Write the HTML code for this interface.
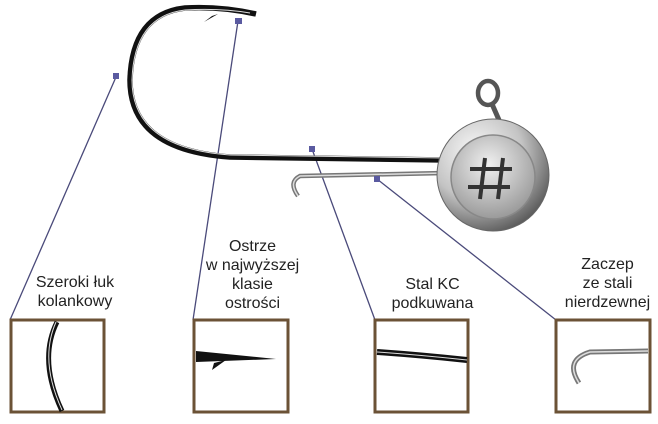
<!DOCTYPE html>
<html><head><meta charset="utf-8"><style>
html,body{margin:0;padding:0;background:#fff;}
body{width:658px;height:424px;overflow:hidden;position:relative;font-family:"Liberation Sans",sans-serif;}
.t{position:absolute;text-align:center;font-size:16px;line-height:19px;color:#222;}
</style></head><body>
<svg width="658" height="424" style="position:absolute;left:0;top:0">
<defs>
<radialGradient id="hd" cx="35%" cy="30%" r="75%">
<stop offset="0" stop-color="#fafafa"/><stop offset="0.55" stop-color="#c4c4c4"/><stop offset="1" stop-color="#5a5a5a"/>
</radialGradient>
<radialGradient id="hi" cx="45%" cy="35%" r="65%">
<stop offset="0" stop-color="#f0f0f0"/><stop offset="1" stop-color="#9a9a9a"/>
</radialGradient>
</defs>
<g stroke="#4a4a7a" stroke-width="1.3">
<line x1="116" y1="77" x2="10" y2="320"/>
<line x1="238" y1="21" x2="193" y2="320"/>
<line x1="312" y1="149" x2="375" y2="320"/>
<line x1="377" y1="179" x2="556" y2="320"/>
</g>
<path d="M298,196 Q288,182 300,176 L445,173" fill="none" stroke="#777" stroke-width="4.5"/>
<path d="M298,196 Q288,182 300,176 L445,173" fill="none" stroke="#ddd" stroke-width="1.5"/>
<path d="M256,14 Q220,6 185,8 Q132,14 130,80 Q130,150 230,157 L445,160" fill="none" stroke="#111" stroke-width="5.5"/>
<path d="M250,13 Q220,8 185,10 Q134,16 132,80 Q132,148 230,155 L445,158" fill="none" stroke="#ddd" stroke-width="1"/>
<path d="M218,14 L204,22 L212,16 Z" fill="#111"/>
<ellipse cx="488" cy="93" rx="10" ry="12" fill="none" stroke="#555" stroke-width="4.5"/>
<path d="M492,104 L499,120" stroke="#555" stroke-width="5"/>
<circle cx="493" cy="175" r="56" fill="url(#hd)" stroke="#666" stroke-width="1"/>
<circle cx="493" cy="177" r="42" fill="url(#hi)" stroke="#888" stroke-width="1.5"/>
<g stroke="#333" stroke-width="4" fill="none">
<line x1="485" y1="158" x2="480" y2="199"/><line x1="503" y1="158" x2="498" y2="199"/>
<line x1="470" y1="169" x2="512" y2="169"/><line x1="468" y1="187" x2="510" y2="187"/>
</g>
<g fill="#5a5aa0">
<rect x="113" y="73" width="6" height="6"/>
<rect x="235" y="18" width="7" height="6"/>
<rect x="309" y="146" width="6" height="6"/>
<rect x="374" y="176" width="6" height="6"/>
</g>
<g fill="#fff" stroke="#6b5236" stroke-width="3">
<rect x="11" y="320" width="93" height="92"/>
<rect x="194" y="320" width="94" height="92"/>
<rect x="375" y="320" width="93" height="92"/>
<rect x="556" y="320" width="94" height="92"/>
</g>
<path d="M57,322 Q38,360 62,411" fill="none" stroke="#111" stroke-width="5"/>
<path d="M56,322 Q39,360 62,410" fill="none" stroke="#ddd" stroke-width="1"/>
<path d="M196,351 L276,359 L196,362 Z" fill="#111"/>
<path d="M214,363 L226,360 L212,370 Z" fill="#111"/>
<path d="M377,352 Q420,355 467,360" fill="none" stroke="#111" stroke-width="6"/>
<path d="M377,352 Q420,355 467,360" fill="none" stroke="#ddd" stroke-width="1"/>
<path d="M579,383 Q564,360 590,352 L648,351" fill="none" stroke="#777" stroke-width="5"/>
<path d="M579,383 Q564,360 590,352 L648,351" fill="none" stroke="#ddd" stroke-width="1.5"/>
</svg>
<div class="t" style="left:20px;top:273px;width:110px">Szeroki łuk<br>kolankowy</div>
<div class="t" style="left:190px;top:237px;width:125px">Ostrze<br>w najwyższej<br>klasie<br>ostrości</div>
<div class="t" style="left:375px;top:275px;width:115px">Stal KC<br>podkuwana</div>
<div class="t" style="left:550px;top:255px;width:115px">Zaczep<br>ze stali<br>nierdzewnej</div>
</body></html>
